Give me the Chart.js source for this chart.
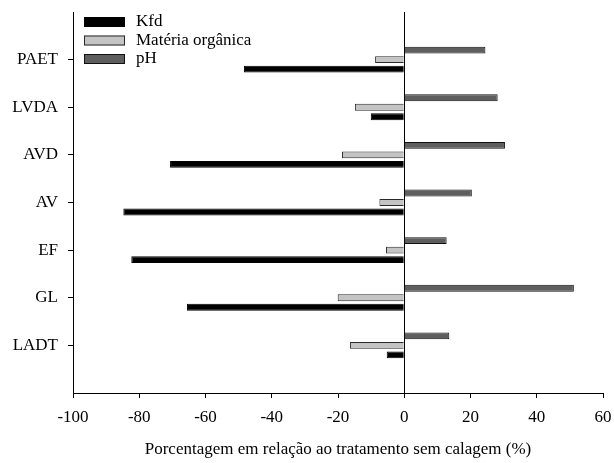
<!DOCTYPE html>
<html>
<head>
<meta charset="utf-8">
<script src="https://cdn.jsdelivr.net/npm/chart.js@4.4.1/dist/chart.umd.min.js"></script>
<style>
  html, body { margin: 0; padding: 0; background: #ffffff; }
  #wrap { width: 614px; height: 463px; }
</style>
</head>
<body>
<div id="wrap"><canvas id="chart" width="614" height="463"></canvas></div>
<script>
// Soil-management treatments (top to bottom)
const categories = ['PAET', 'LVDA', 'AVD', 'AV', 'EF', 'GL', 'LADT'];

// Change relative to the unlimed treatment (%)
const kfd = [-48.4, -10.1, -70.7, -84.8, -82.4, -65.6, -5.3];
const materiaOrganica = [-8.8, -14.9, -18.8, -7.5, -5.5, -20.1, -16.4];
const ph = [24.5, 28.2, 30.4, 20.4, 12.8, 51.2, 13.6];

const seriesNames = ['Kfd', 'Matéria orgânica', 'pH'];
const xTicks = [-100, -80, -60, -40, -20, 0, 20, 40, 60];
const xTitle = 'Porcentagem em relação ao tratamento sem calagem (%)';

// One empty slot above and below the groups
const labels = ['', ...categories, ''];
const pad = arr => [null, ...arr, null];

const FONT = { family: '"Liberation Serif", "Times New Roman", serif', size: 17 };
const CLEAR = 'rgba(0,0,0,0)';

const styles = {
  'Kfd': { fill: '#000000', border: '#000000' },
  'Matéria orgânica': { fill: '#c4c4c4', border: '#2a2a2a' },
  'pH': { fill: '#5e5e5e', border: '#111111' }
};

// Tick-label overhang is handled by the layout padding instead
function noOverhang(s) {
  s.paddingLeft = 0;
  s.paddingRight = 0;
  s.paddingTop = 0;
  s.paddingBottom = 0;
}

// Legend inside the plot, top-left
const innerLegend = {
  id: 'innerLegend',
  afterDraw(chart) {
    const ctx = chart.ctx;
    const x0 = chart.chartArea.left + 11;
    const y0 = chart.chartArea.top + 5;
    ctx.save();
    ctx.font = FONT.size + 'px ' + FONT.family;
    ctx.textBaseline = 'middle';
    ctx.textAlign = 'left';
    seriesNames.forEach((name, i) => {
      const y = y0 + i * 18.5;
      const s = styles[name];
      ctx.fillStyle = s.fill;
      ctx.fillRect(x0, y, 41, 10);
      ctx.strokeStyle = s.border;
      ctx.lineWidth = 1;
      ctx.strokeRect(x0 + 0.5, y + 0.5, 40, 9);
      ctx.fillStyle = '#000000';
      ctx.fillText(name, x0 + 52, y + 5);
    });
    ctx.restore();
  }
};

function dataset(name, values) {
  return {
    label: name,
    data: pad(values),
    backgroundColor: styles[name].fill,
    borderColor: styles[name].border,
    borderWidth: 1,
    borderSkipped: 'start',
    categoryPercentage: 0.6,
    barPercentage: 0.72
  };
}

new Chart(document.getElementById('chart'), {
  type: 'bar',
  data: {
    labels: labels,
    datasets: [
      dataset('pH', ph),
      dataset('Matéria orgânica', materiaOrganica),
      dataset('Kfd', kfd)
    ]
  },
  options: {
    indexAxis: 'y',
    responsive: false,
    animation: false,
    devicePixelRatio: 1,
    layout: { padding: { top: 12, right: 11, left: 0, bottom: 0 } },
    plugins: {
      legend: { display: false },
      tooltip: { enabled: false }
    },
    scales: {
      y: {
        type: 'category',
        offset: false,
        afterFit: s => { s.width = 73; noOverhang(s); },
        grid: {
          offset: false,
          drawOnChartArea: false,
          tickLength: 5,
          color: c => (labels[c.index] ? '#000000' : CLEAR)
        },
        border: { color: '#000000', width: 1 },
        ticks: { color: '#000000', font: FONT, padding: 10, autoSkip: false }
      },
      x: {
        type: 'linear',
        min: -100,
        max: 60,
        afterBuildTicks: s => { s.ticks = xTicks.map(v => ({ value: v })); },
        afterFit: s => { s.height = 70; noOverhang(s); },
        grid: {
          drawOnChartArea: true,
          tickLength: 5,
          color: c => (c.tick && c.tick.value === 0 ? '#000000' : CLEAR),
          tickColor: '#000000'
        },
        border: { color: '#000000', width: 1 },
        ticks: {
          color: '#000000',
          font: FONT,
          padding: 9,
          maxRotation: 0,
          callback: v => String(v)
        },
        title: {
          display: true,
          text: xTitle,
          color: '#000000',
          font: FONT,
          padding: { top: 0, bottom: 3 }
        }
      }
    }
  },
  plugins: [innerLegend]
});
</script>
</body>
</html>
